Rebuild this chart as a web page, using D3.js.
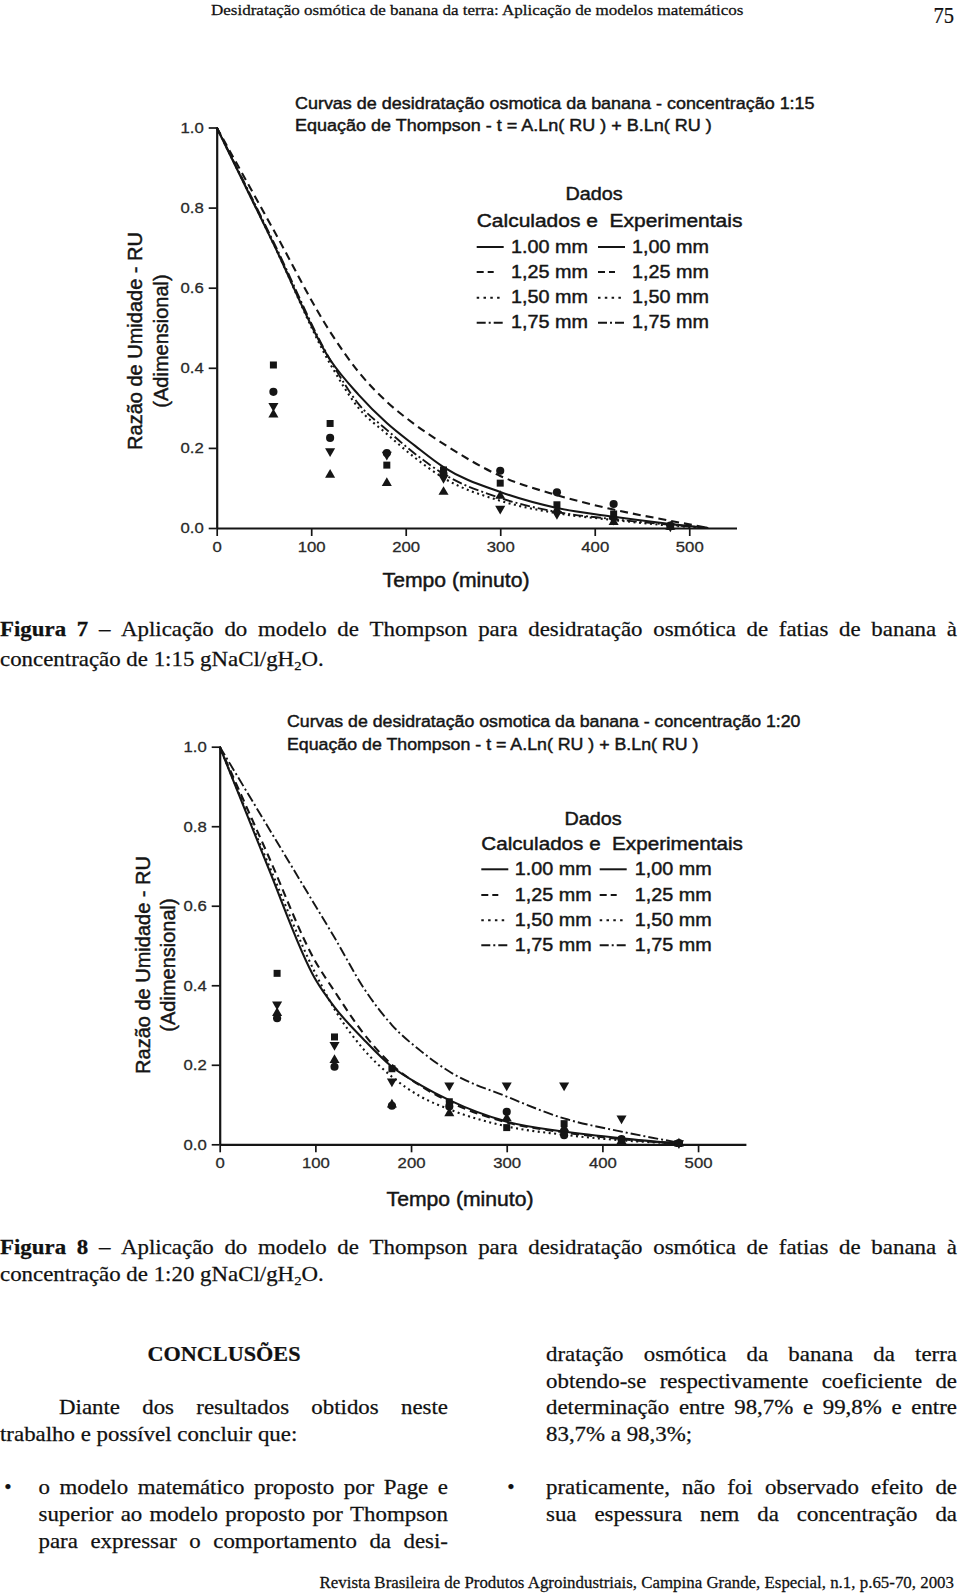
<!DOCTYPE html>
<html><head><meta charset="utf-8">
<script src="https://cdn.jsdelivr.net/npm/d3@7"></script>
<style>body{margin:0;background:#fff} svg{display:block}</style>
</head><body>
<svg id="page" width="960" height="1596"></svg>
<script>
// ---------------- DATA ----------------
const xTicksMajor = [0, 100, 200, 300, 400, 500];
const xTicksMinor = [50, 150, 250, 350, 450, 550];
const yTicksMajor = [0, 0.2, 0.4, 0.6, 0.8, 1.0];
const yTicksMinor = [0.1, 0.3, 0.5, 0.7, 0.9];
const legendCalcLabels = ['1.00 mm', '1,25 mm', '1,50 mm', '1,75 mm'];
const legendExpLabels  = ['1,00 mm', '1,25 mm', '1,50 mm', '1,75 mm'];

// Figure 7 (1:15) - calculated curves
const calcTimes15 = [0, 60, 120, 150, 180, 210, 240, 300, 360, 420, 480, 520];
const calc15_100 = [1, 0.71, 0.42, 0.333, 0.262, 0.205, 0.152, 0.090, 0.050, 0.028, 0.010, 0];
const calc15_125 = [1, 0.745, 0.49, 0.39, 0.315, 0.258, 0.210, 0.130, 0.082, 0.046, 0.018, 0];
const calc15_150 = [1, 0.71, 0.41, 0.300, 0.235, 0.175, 0.125, 0.068, 0.037, 0.020, 0.006, 0];
const calc15_175 = [1, 0.715, 0.42, 0.310, 0.245, 0.185, 0.135, 0.075, 0.040, 0.022, 0.008, 0];
// Figure 7 - experimental points
const expTimes15 = [60, 120, 180, 240, 300, 360, 420, 480];
const exp15_100 = [0.407, 0.261, 0.157, 0.145, 0.112, 0.058, 0.035, 0.004];
const exp15_125 = [0.340, 0.225, 0.187, 0.135, 0.143, 0.089, 0.060, 0.006];
const exp15_150 = [0.283, 0.133, 0.112, 0.090, 0.080, 0.045, 0.015, 0.003];
const exp15_175 = [0.305, 0.192, 0.183, 0.125, 0.048, 0.035, 0.021, 0.004];

// Figure 8 (1:20) - calculated curves
const calcTimes20 = [0, 50, 100, 120, 150, 180, 210, 240, 300, 360, 420, 480];
const calc20_100 = [1, 0.70, 0.415, 0.345, 0.265, 0.195, 0.149, 0.111, 0.057, 0.032, 0.015, 0.002];
const calc20_125 = [1, 0.73, 0.46, 0.385, 0.280, 0.200, 0.147, 0.107, 0.055, 0.030, 0.013, 0.002];
const calc20_150 = [1, 0.71, 0.43, 0.340, 0.240, 0.170, 0.120, 0.088, 0.045, 0.024, 0.010, 0.002];
const calc20_175 = [1, 0.80, 0.60, 0.52, 0.395, 0.300, 0.235, 0.183, 0.120, 0.065, 0.032, 0.004];
// Figure 8 - experimental points
const expTimes20 = [60, 120, 180, 240, 300, 360, 420, 480];
const exp20_100 = [0.430, 0.270, 0.190, 0.107, 0.042, 0.052, 0.011, 0.002];
const exp20_125 = [0.317, 0.195, 0.097, 0.095, 0.082, 0.023, 0.013, 0.003];
const exp20_150 = [0.330, 0.212, 0.100, 0.078, 0.065, 0.040, 0.008, 0.002];
const exp20_175 = [0.352, 0.250, 0.158, 0.148, 0.148, 0.148, 0.065, 0.003];

// ---------------- STYLES ----------------
const ink = '#151515';
const chartFont = "'Liberation Sans', Arial, sans-serif";
const pageFont = "'Liberation Serif', 'Times New Roman', serif";
const lineStyles = [
  {dash: null, w: 2.1, sample: 27},
  {dash: '8,5', w: 2.1, sample: 17},
  {dash: '2,3.5', w: 2.1, sample: 27},
  {dash: '10,3,2,3', w: 1.9, sample: 27}
];
const legendDash = [null, '7,4', '2.5,4.3', '9,3,2,3'];
const markerTypes = [
  {type: d3.symbolSquare, size: 49, rot: 0},
  {type: d3.symbolCircle, size: 52, rot: 0},
  {type: d3.symbolTriangle, size: 44, rot: 0},
  {type: d3.symbolTriangle, size: 44, rot: 180}
];

const svg = d3.select('#page');
svg.append('rect').attr('width', 960).attr('height', 1596).attr('fill', '#fff');

function addText(parent, str, x, y, o) {
  const t = parent.append('text')
    .attr('font-family', o.family).attr('font-size', o.size)
    .attr('font-weight', o.weight || 'normal')
    .attr('text-anchor', o.anchor || 'start')
    .attr('fill', o.fill || ink)
    .text(str);
  if (o.stroke) t.attr('stroke', o.fill || ink).attr('stroke-width', o.stroke);
  let sx = o.sx || 1;
  if (o.width) { sx = o.width / t.node().getComputedTextLength(); }
  t.attr('transform', `translate(${x},${y}) ${o.rot ? 'rotate(' + o.rot + ')' : ''} scale(${sx},1)`);
  return t;
}

function drawChart(cfg) {
  const g = svg.append('g');
  const x = d3.scaleLinear().domain([0, 550]).range([cfg.x0, cfg.x1]);
  const y = d3.scaleLinear().domain([0, 1]).range([cfg.yBot, cfg.yTop]);
  const CT = 0.45;

  // axes
  const xa = g.append('g').attr('transform', `translate(0,${cfg.yBot})`);
  xa.call(d3.axisBottom(x).tickValues(xTicksMinor).tickSize(5).tickSizeOuter(0).tickFormat(''));
  xa.call(d3.axisBottom(x).tickValues(xTicksMajor).tickSize(8).tickPadding(5).tickSizeOuter(0).tickFormat(d3.format('d')));
  const ya = g.append('g').attr('transform', `translate(${cfg.x0},0)`);
  ya.call(d3.axisLeft(y).tickValues(yTicksMinor).tickSize(5).tickSizeOuter(0).tickFormat(''));
  ya.call(d3.axisLeft(y).tickValues(yTicksMajor).tickSize(8).tickPadding(4).tickSizeOuter(0).tickFormat(d3.format('.1f')));
  [xa, ya].forEach(a => {
    a.selectAll('.domain').attr('stroke', ink).attr('stroke-width', 2.2);
    a.selectAll('.tick line').attr('stroke', ink).attr('stroke-width', 1.7);
    a.selectAll('.tick text').attr('font-family', chartFont).attr('font-size', 15.5)
      .attr('fill', '#2a2a2a').attr('stroke', '#2a2a2a').attr('stroke-width', 0.3)
      .attr('transform', 'scale(1.08,1)');
  });

  // calculated curves
  const line = d3.line().x(d => x(d[0])).y(d => y(d[1])).curve(d3.curveMonotoneX);
  cfg.calc.forEach((vals, i) => {
    const st = lineStyles[i];
    g.append('path').datum(cfg.calcTimes.map((t, k) => [t, vals[k]]))
      .attr('d', line).attr('fill', 'none').attr('stroke', ink)
      .attr('stroke-width', st.w).attr('stroke-dasharray', st.dash);
  });

  // experimental points
  cfg.exp.forEach((vals, i) => {
    const m = markerTypes[i];
    const sym = d3.symbol().type(m.type).size(m.size);
    g.selectAll(null).data(cfg.expTimes.map((t, k) => [t, vals[k]])).enter()
      .append('path').attr('d', sym)
      .attr('transform', d => `translate(${x(d[0])},${y(d[1])}) rotate(${m.rot})`)
      .attr('fill', ink);
  });

  // titles
  cfg.titles.forEach((s, i) => addText(g, s, cfg.titleX, cfg.titleY[i], {family: chartFont, size: 17, width: cfg.titleW[i], stroke: CT}));

  // legend
  const L = cfg.legend;
  addText(g, 'Dados', L.dadosX, L.dadosY, {family: chartFont, size: 18.5, sx: 1.07, anchor: 'middle', stroke: CT});
  addText(g, 'Calculados e  Experimentais', L.calcX, L.calcY, {family: chartFont, size: 18.5, width: L.calcW, stroke: CT}).style('white-space', 'pre');
  L.rowY.forEach((cy, i) => {
    const st = lineStyles[i];
    [[L.s1, L.t1, legendCalcLabels[i]], [L.s2, L.t2, legendExpLabels[i]]].forEach(([sx0, tx, lab]) => {
      g.append('line').attr('x1', sx0).attr('x2', sx0 + st.sample).attr('y1', cy + 1).attr('y2', cy + 1)
        .attr('stroke', ink).attr('stroke-width', 2).attr('stroke-dasharray', legendDash[i]);
      addText(g, lab, tx, cy + 6.5, {family: chartFont, size: 18.5, sx: 1.07, stroke: CT});
    });
  });

  // axis titles
  addText(g, 'Tempo (minuto)', cfg.xTitle.x, cfg.xTitle.y, {family: chartFont, size: 19.5, width: cfg.xTitle.w, anchor: 'middle', stroke: CT});
  addText(g, 'Razão de Umidade - RU', cfg.yTitle.x1, cfg.yTitle.y, {family: chartFont, size: 20, anchor: 'middle', rot: -90, stroke: CT});
  addText(g, '(Adimensional)', cfg.yTitle.x2, cfg.yTitle.y, {family: chartFont, size: 20, anchor: 'middle', rot: -90, stroke: CT});
}

drawChart({
  x0: 216.7, x1: 736.5, yTop: 127.5, yBot: 528,
  titles: ['Curvas de desidratação osmotica da banana - concentração 1:15', 'Equação de Thompson - t = A.Ln( RU ) + B.Ln( RU )'],
  titleX: 295, titleY: [109, 131.3], titleW: [520, 417],
  legend: {dadosX: 594, dadosY: 199.8, calcX: 476.7, calcY: 226.5, calcW: 260,
           rowY: [246, 271, 296.7, 321.7], s1: 476.7, t1: 511, s2: 598, t2: 632},
  xTitle: {x: 456, y: 587, w: 147}, yTitle: {x1: 142, x2: 168, y: 341},
  calcTimes: calcTimes15, calc: [calc15_100, calc15_125, calc15_150, calc15_175],
  expTimes: expTimes15, exp: [exp15_100, exp15_125, exp15_150, exp15_175]
});

drawChart({
  x0: 219.7, x1: 745.9, yTop: 746.7, yBot: 1144.3,
  titles: ['Curvas de desidratação osmotica da banana - concentração 1:20', 'Equação de Thompson - t = A.Ln( RU ) + B.Ln( RU )'],
  titleX: 287, titleY: [727, 749.8], titleW: [514, 412],
  legend: {dadosX: 593, dadosY: 824.8, calcX: 481.3, calcY: 849.8, calcW: 256,
           rowY: [868.3, 894, 919.3, 944.3], s1: 481.3, t1: 514.7, s2: 599.7, t2: 634.7},
  xTitle: {x: 460, y: 1206, w: 147}, yTitle: {x1: 149.5, x2: 175, y: 965},
  calcTimes: calcTimes20, calc: [calc20_100, calc20_125, calc20_150, calc20_175],
  expTimes: expTimes20, exp: [exp20_100, exp20_125, exp20_150, exp20_175]
});

// ---------------- PAGE TEXT ----------------
const pg = svg.append('g');
const SX = 1.09, FS = 21, PST = 0.25;
function justifyLine(str, x0, x1, yb, boldCount) {
  const words = str.split(' ');
  const nodes = words.map((w, i) => pg.append('text').attr('font-family', pageFont).attr('font-size', FS)
    .attr('font-weight', i < (boldCount || 0) ? 'bold' : 'normal').attr('fill', '#111')
    .attr('stroke', '#111').attr('stroke-width', PST).text(w));
  const widths = nodes.map(n => n.node().getComputedTextLength() * SX);
  const gap = (x1 - x0 - d3.sum(widths)) / (words.length - 1);
  let xx = x0;
  nodes.forEach((n, i) => { n.attr('transform', `translate(${xx},${yb}) scale(${SX},1)`); xx += widths[i] + gap; });
}
function plainLine(str, x0, yb, o) {
  return addText(pg, str, x0, yb, Object.assign({family: pageFont, size: FS, sx: SX, fill: '#111', stroke: PST}, o || {}));
}
function captionLine2(conc, yb) {
  const t = pg.append('text').attr('font-family', pageFont).attr('font-size', FS).attr('fill', '#111')
    .attr('stroke', '#111').attr('stroke-width', PST)
    .attr('transform', `translate(0,${yb}) scale(${SX},1)`);
  t.append('tspan').text('concentração de ' + conc + ' gNaCl/gH');
  t.append('tspan').attr('font-size', 13.5).attr('dy', 4).text('2');
  t.append('tspan').attr('dy', -4).text('O.');
}

addText(pg, 'Desidratação osmótica de banana da terra: Aplicação de modelos matemáticos', 211, 14.5, {family: pageFont, size: 15.5, width: 533, fill: '#111', stroke: PST});
addText(pg, '75', 954, 23, {family: pageFont, size: 23, width: 20.5, anchor: 'end', fill: '#111', stroke: PST});

justifyLine('Figura 7 – Aplicação do modelo de Thompson para desidratação osmótica de fatias de banana à', 0, 957, 636, 2);
captionLine2('1:15', 666);
justifyLine('Figura 8 – Aplicação do modelo de Thompson para desidratação osmótica de fatias de banana à', 0, 957, 1253.5, 2);
captionLine2('1:20', 1281);

addText(pg, 'CONCLUSÕES', 224, 1361, {family: pageFont, size: FS, weight: 'bold', width: 153, anchor: 'middle', fill: '#111', stroke: PST});
justifyLine('Diante dos resultados obtidos neste', 59, 448, 1414.3);
plainLine('trabalho e possível concluir que:', 0, 1441);
plainLine('•', 8, 1494.3, {anchor: 'middle', sx: 1});
justifyLine('o modelo matemático proposto por Page e', 38.5, 448, 1494.3);
justifyLine('superior ao modelo proposto por Thompson', 38.5, 448, 1521);
justifyLine('para expressar o comportamento da desi-', 38.5, 448, 1547.7);

justifyLine('dratação osmótica da banana da terra', 546, 957, 1361);
justifyLine('obtendo-se respectivamente coeficiente de', 546, 957, 1387.7);
justifyLine('determinação entre 98,7% e 99,8% e entre', 546, 957, 1414.3);
plainLine('83,7% a 98,3%;', 546, 1441);
plainLine('•', 511, 1494.3, {anchor: 'middle', sx: 1});
justifyLine('praticamente, não foi observado efeito de', 546, 957, 1494.3);
justifyLine('sua espessura nem da concentração da', 546, 957, 1521);

addText(pg, 'Revista Brasileira de Produtos Agroindustriais, Campina Grande, Especial, n.1, p.65-70, 2003', 954, 1588, {family: pageFont, size: 16.5, width: 635, anchor: 'end', fill: '#111', stroke: PST});
</script>
</body></html>
